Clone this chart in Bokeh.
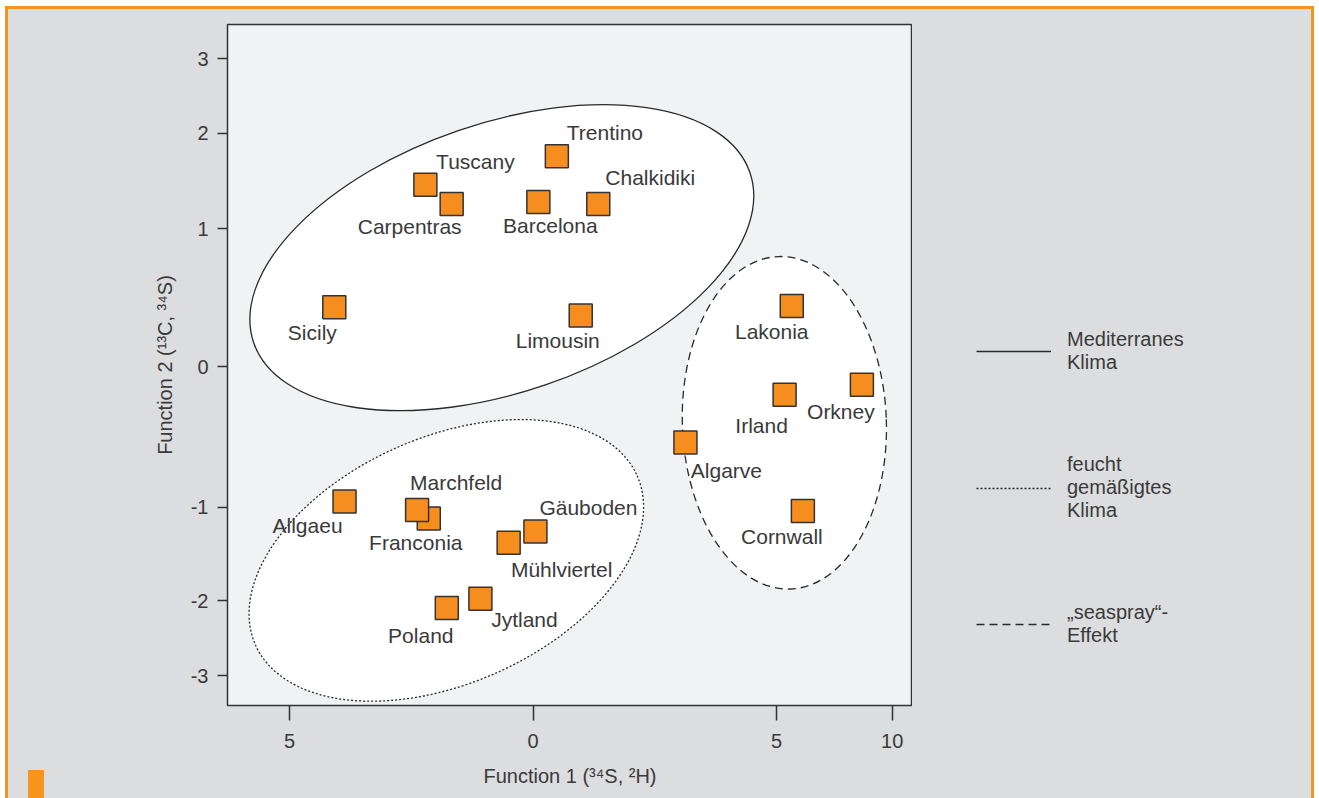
import numpy as np
from bokeh.plotting import figure
from bokeh.layouts import row
from bokeh.models import (Range1d, FixedTicker, Legend, LegendItem, ColumnDataSource)
from bokeh.core.properties import value
from bokeh.embed import file_html
from bokeh.resources import INLINE

# ---------------- data ----------------
regions = ["Trentino", "Tuscany", "Carpentras", "Barcelona", "Chalkidiki", "Sicily", "Limousin",
           "Allgaeu", "Franconia", "Marchfeld", "Gäuboden", "Mühlviertel", "Poland", "Jytland",
           "Lakonia", "Irland", "Orkney", "Algarve", "Cornwall"]
function1 = [0.49, -2.21, -1.67, 0.11, 1.34, -4.08, 0.98,
             -3.87, -2.14, -2.38, 0.05, -0.50, -1.77, -1.08,
             5.66, 5.35, 8.69, 3.13, 6.14]
function2 = [1.76, 1.46, 1.26, 1.28, 1.26, 0.43, 0.37,
             -0.96, -1.12, -1.03, -1.26, -1.38, -2.10, -1.98,
             0.44, -0.20, -0.13, -0.54, -1.04]

# groups (ellipses)
group_names = ["Mediterranes\nKlima", "feucht\ngemäßigtes\nKlima", "„seaspray“-\nEffekt"]
group_f1 = [-0.64, -1.78, 5.34]
group_f2 = [0.79, -1.57, -0.40]

# axis ticks
x_tick_values = [-5, 0, 5, 10]
x_tick_labels = ["5", "0", "5", "10"]
y_tick_values = [-3, -2, -1, 0, 1, 2, 3]
y_tick_labels = ["-3", "-2", "-1", "0", "1", "2", "3"]

# ---------------- layout of the (non-linear) original axes ----------------
X_TICK_POS = [-243.5, 0.0, 243.5, 359.2]
Y_TICK_POS = [-309.0, -234.0, -140.7, 0.0, 137.7, 233.3, 307.7]

def fx(v):
    return np.interp(v, x_tick_values, X_TICK_POS)

def fy(v):
    return np.interp(v, y_tick_values, Y_TICK_POS)

# label offsets (screen px) relative to the marker
label_dx = [48, 50, -42, 12, 52, -22, -23, -37, -13, 39, 53, 53, -26, 44, -20, -23, -21, 41, -21]
label_dy = [-24, -23, 23, 23, -26, 25, 25, 24, 24, -27, -24, 27, 27, 21, 26, 31, 27, 28, 26]

FONT = "Liberation Sans"
TXT = "#3a3a3a"
ORANGE = "#f68d1f"
PAGE = "#dcdddf"

p = figure(frame_width=685, frame_height=681,
           x_range=Range1d(-305.5, 379.5), y_range=Range1d(-339, 342),
           output_backend="svg", toolbar_location=None,
           min_border_left=219, min_border_right=0, min_border_top=15, min_border_bottom=93,
           background_fill_color="#f1f2f4", border_fill_color=PAGE,
           outline_line_color="#333333", outline_line_width=1.5)
p.grid.visible = False

# ellipses
ell_w = [524.6, 417.5, 204.0]
ell_h = [269.0, 246.3, 333.0]
ell_a = [np.radians(18.9), np.radians(23.9), np.radians(2.0)]
dashes = ["solid", "2 2", "8 5"]
for i in range(3):
    p.ellipse(x=[fx(group_f1[i])], y=[fy(group_f2[i])], width=ell_w[i], height=ell_h[i],
              angle=ell_a[i], fill_color="white", line_color="#2a2a2a", line_width=1.3,
              line_dash=dashes[i])

src = ColumnDataSource(dict(x=fx(function1), y=fy(function2), name=regions,
                            dx=label_dx, dy=label_dy))
p.scatter("x", "y", source=src, marker="square", size=23, fill_color=ORANGE,
          line_color="#333333", line_width=1.5)
p.text("x", "y", text="name", source=src, x_offset="dx", y_offset="dy",
       text_align="center", text_baseline="middle", text_font=value(FONT),
       text_font_size="21px", text_color=TXT)

# axes
p.xaxis.ticker = FixedTicker(ticks=X_TICK_POS)
p.xaxis.major_label_overrides = {pos: lab for pos, lab in zip(X_TICK_POS, x_tick_labels)}
p.yaxis.ticker = FixedTicker(ticks=Y_TICK_POS)
p.yaxis.major_label_overrides = {pos: lab for pos, lab in zip(Y_TICK_POS, y_tick_labels)}
p.xaxis.axis_label = "Function 1 (³⁴S, ²H)"
p.yaxis.axis_label = "Function 2 (¹³C, ³⁴S)"
for ax in (p.xaxis, p.yaxis):
    ax.axis_line_color = None
    ax.major_tick_in = 0
    ax.minor_tick_line_color = None
    ax.major_tick_line_color = "#333333"
    ax.major_tick_line_width = 1.5
    ax.major_label_text_font = FONT
    ax.major_label_text_font_size = "20px"
    ax.major_label_text_color = TXT
    ax.axis_label_text_font = FONT
    ax.axis_label_text_font_size = "20px"
    ax.axis_label_text_font_style = "normal"
    ax.axis_label_text_color = TXT
p.xaxis.major_tick_out = 15
p.yaxis.major_tick_out = 10
p.xaxis.major_label_standoff = 13
p.yaxis.major_label_standoff = 9
p.xaxis.axis_label_standoff = 14
p.yaxis.axis_label_standoff = 12

# legend panel (separate figure to the right; line samples only)
pl = figure(frame_width=399, frame_height=681, x_range=Range1d(0, 1), y_range=Range1d(0, 1),
            x_axis_type=None, y_axis_type=None, toolbar_location=None,
            output_backend="svg", min_border_left=0, min_border_right=0,
            min_border_top=15, min_border_bottom=93, outline_line_color=None,
            background_fill_color=PAGE, border_fill_color=PAGE)
pl.grid.visible = False
items = []
for i in range(3):
    r = pl.line(x=[np.nan], y=[np.nan], line_color="#2a2a2a", line_width=1.3,
                line_dash=dashes[i])
    items.append(LegendItem(label=group_names[i], renderers=[r]))
legend = Legend(items=items, location=(64, 58), orientation="vertical",
                glyph_width=75, glyph_height=20, label_standoff=16, spacing=79,
                padding=0, margin=0, border_line_color=None, background_fill_alpha=0,
                label_text_font=FONT, label_text_font_size="20px", label_text_color=TXT,
                label_text_line_height=1.45)
pl.add_layout(legend)

layout = row(p, pl, spacing=0)
layout.styles = {"margin-left": "8px", "margin-top": "9px",
                 "background-color": PAGE,
                 "outline": "3px solid #f7941d"}
layout.stylesheets = [":host { position: relative; }\n"
                      ":host::after { content: ''; position: absolute; left: 20px; top: 761px;"
                      " width: 16px; height: 28px; background: #f7941d; }"]

open("out.html", "w").write(file_html(layout, INLINE))
